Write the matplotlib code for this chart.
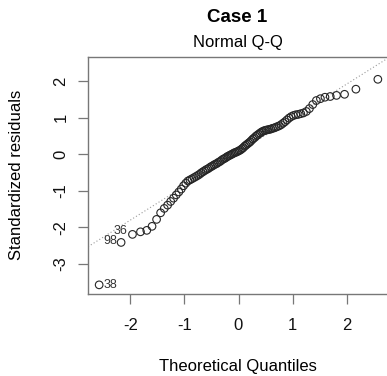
import numpy as np
import matplotlib
matplotlib.use("Agg")
import matplotlib.pyplot as plt
from statistics import NormalDist

# sorted standardized residuals (n = 100)
resid = [
    -3.57, -2.41, -2.19, -2.12, -2.08, -1.97, -1.78, -1.60, -1.48, -1.39,
    -1.29, -1.20, -1.11, -1.03, -0.95, -0.86, -0.79, -0.73, -0.70, -0.67,
    -0.64, -0.61, -0.58, -0.55, -0.51, -0.48, -0.45, -0.42, -0.40, -0.37,
    -0.34, -0.32, -0.29, -0.27, -0.25, -0.22, -0.20, -0.17, -0.14, -0.12,
    -0.10, -0.07, -0.05, -0.03, -0.01, 0.01, 0.03, 0.05, 0.06, 0.08,
    0.10, 0.12, 0.15, 0.18, 0.22, 0.25, 0.28, 0.31, 0.34, 0.38,
    0.42, 0.45, 0.49, 0.52, 0.55, 0.58, 0.61, 0.63, 0.65, 0.66,
    0.67, 0.68, 0.69, 0.71, 0.72, 0.74, 0.76, 0.78, 0.81, 0.85,
    0.89, 0.94, 0.99, 1.03, 1.06, 1.08, 1.09, 1.11, 1.13, 1.17,
    1.25, 1.36, 1.47, 1.52, 1.56, 1.58, 1.61, 1.64, 1.78, 2.05,
]
# observation ids of the three labelled points and their rank in the sorted list
id_labels = ["38", "98", "36"]
id_ranks = [0, 1, 2]

# reference line (qqline)
line_intercept = 0.06
line_slope = 0.93

xticks = [-2, -1, 0, 1, 2]
yticks = [-3, -2, -1, 0, 1, 2]

plt.rcParams['font.family'] = ['Liberation Sans', 'DejaVu Sans']

n = len(resid)
nd = NormalDist()
a = 3.0 / 8 if n <= 10 else 0.5          # same as R's ppoints()
theo = np.array([nd.inv_cdf((i + 1 - a) / (n + 1 - 2 * a)) for i in range(n)])
rs = np.array(resid)

fig = plt.figure(figsize=(3.87, 3.76), dpi=100)
W, H = 387, 376
ax = fig.add_axes([88 / W, 1 - 294 / H, (389 - 88) / W, (294 - 57) / H])

ax.axline((0, line_intercept), slope=line_slope, color='#9a9a9a', lw=0.8,
          ls=(0, (1, 2)), zorder=1)

ax.scatter(theo, rs, s=30, facecolors='none', edgecolors='#262626', linewidths=0.8, zorder=2)

# point ids
ax.annotate(id_labels[0], (theo[id_ranks[0]], rs[id_ranks[0]]), xytext=(4, 0),
            textcoords='offset pixels', ha='left', va='center', fontsize=9, color='#333333')
ax.annotate(id_labels[1], (theo[id_ranks[1]], rs[id_ranks[1]]), xytext=(-4, 1),
            textcoords='offset pixels', ha='right', va='center', fontsize=9, color='#333333')
ax.annotate(id_labels[2], (theo[id_ranks[2]], rs[id_ranks[2]]), xytext=(-5, 3),
            textcoords='offset pixels', ha='right', va='center', fontsize=9, color='#333333')

r = theo.max() - theo.min()
ax.set_xlim(theo.min() - 0.04 * r, theo.max() + 0.04 * r)
ax.set_ylim(-3.82, 2.66)
ax.set_xticks(xticks)
ax.set_yticks(yticks)
ax.set_xticklabels([str(v) for v in xticks])
ax.set_yticklabels([str(v) for v in yticks], rotation=90, va='center')

for s in ax.spines.values():
    s.set_color('#777777')
    s.set_linewidth(1.0)
ax.tick_params(direction='out', length=7.2, width=0.9, color='#777777',
               labelsize=12, labelcolor='#111111')
ax.tick_params(axis='x', pad=10)
ax.tick_params(axis='y', pad=7)

fig.text(0.614, 1 - 17 / H, "Case 1", ha='center', va='center', fontsize=13.5, fontweight='bold')
fig.text(0.614, 1 - 42 / H, "Normal Q-Q", ha='center', va='center', fontsize=12)
fig.text(0.614, 1 - 366 / H, "Theoretical Quantiles", ha='center', va='center', fontsize=12)
fig.text(17 / W, 1 - 175 / H, "Standardized residuals", ha='center', va='center',
         rotation=90, fontsize=12)

fig.savefig("out.png", dpi=100)
